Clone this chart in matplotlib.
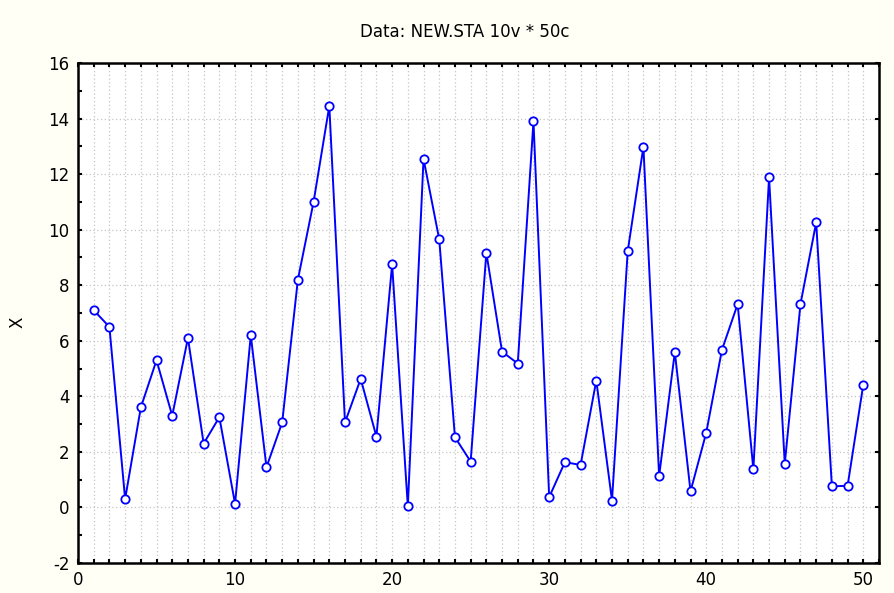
import matplotlib
matplotlib.use("Agg")
import matplotlib.pyplot as plt
from matplotlib.ticker import MultipleLocator

case_idx = list(range(1, 51))
x_values = [7.1, 6.5, 0.3, 3.6, 5.3, 3.3, 6.1, 2.3, 3.25, 0.13,
            6.2, 1.45, 3.06, 8.2, 11.0, 14.45, 3.06, 4.63, 2.55, 8.75,
            0.04, 12.55, 9.65, 2.53, 1.65, 9.17, 5.61, 5.18, 13.9, 0.37,
            1.63, 1.53, 4.57, 0.25, 9.22, 12.98, 1.13, 5.59, 0.58, 2.69,
            5.67, 7.32, 1.37, 11.88, 1.57, 7.32, 10.26, 0.76, 0.78, 4.42]
title_text = "Data: NEW.STA 10v * 50c"
ylabel_text = "X"

plt.rcParams['font.family'] = ['DejaVu Sans']
plt.rcParams['axes.unicode_minus'] = False
fig = plt.figure(figsize=(8.95, 5.93), dpi=100, facecolor="#FFFFF5")
ax = fig.add_axes([78/895, 1 - 563/593, (879-78)/895, (563-63)/593])
ax.set_facecolor("white")

ax.plot(case_idx, x_values, color="#0000FF", lw=1.4, marker="o", ms=6,
        mfc="white", mec="#0000FF", mew=1.3, zorder=3)

ax.set_xlim(0, 51)
ax.set_ylim(-2, 16)
ax.xaxis.set_major_locator(MultipleLocator(10))
ax.xaxis.set_minor_locator(MultipleLocator(1))
ax.yaxis.set_major_locator(MultipleLocator(2))
ax.yaxis.set_minor_locator(MultipleLocator(1))

grid_kw = dict(color="#C4C4C4", ls=(0, (1, 2)), lw=0.9)
ax.grid(True, which="minor", axis="x", **grid_kw)
ax.grid(True, which="major", axis="x", **grid_kw)
ax.grid(True, which="major", axis="y", **grid_kw)

for s in ax.spines.values():
    s.set_linewidth(1.8)
    s.set_color("black")

ax.tick_params(which="both", direction="in", top=True, right=True,
               width=1.5, labelsize=12, pad=6)
ax.tick_params(which="major", length=3)
ax.tick_params(which="minor", length=3)
ax.tick_params(axis="y", which="minor", right=False)

fig.text(465/895, 1 - 32/593, title_text, ha="center", va="center", fontsize=12)
fig.text(18/895, 1 - 322/593, ylabel_text, ha="center", va="center",
         fontsize=12, rotation=90)

fig.savefig("out.png", dpi=100, facecolor=fig.get_facecolor())
